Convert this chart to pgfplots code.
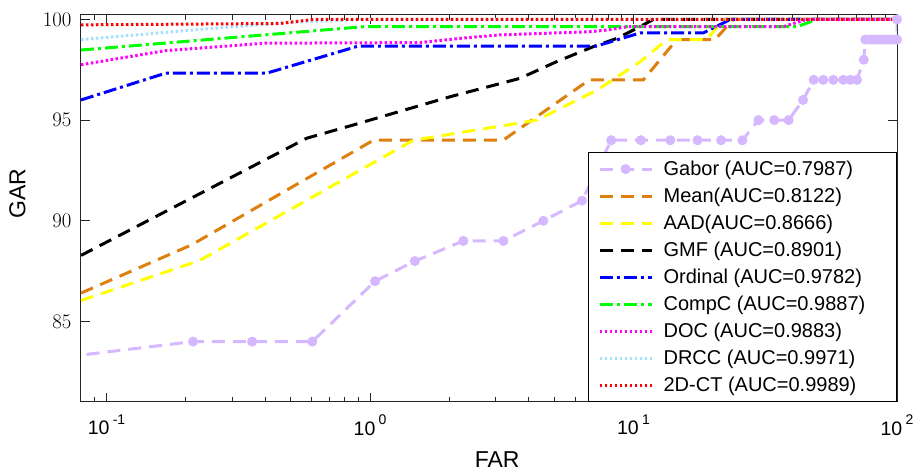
\documentclass[border=0pt]{standalone}
\usepackage{fontspec}
\setmainfont{Liberation Sans}
\usepackage{pgfplots}
\pgfplotsset{compat=1.18}
\usetikzlibrary{calc}
\definecolor{cgabor}{RGB}{213,184,255}
\definecolor{cmean}{RGB}{222,128,16}
\definecolor{caad}{RGB}{255,255,0}
\definecolor{cord}{RGB}{0,0,255}
\definecolor{ccomp}{RGB}{0,255,0}
\definecolor{cdoc}{RGB}{255,0,255}
\definecolor{cdrcc}{RGB}{165,225,255}
\definecolor{cct}{RGB}{255,0,0}
\newcommand{\tp}[1]{10\,\raisebox{0.55em}{\fontsize{14}{14}\selectfont #1}}
\newcommand{\legtxt}[1]{\makebox[233pt][l]{#1}}
\begin{document}
\begin{tikzpicture}
\begin{axis}[
 scale only axis, width=816pt, height=387pt,
 xmode=log, xmin=0.08, xmax=100, ymin=81, ymax=100.22,
 xtick={0.1,1,10,100}, xticklabels={\tp{-1},\tp{0},\tp{1},\tp{2}},
 minor xtick={0.09,0.2,0.3,0.4,0.5,0.6,0.7,0.8,0.9,2,3,4,5,6,7,8,9,20,30,40,50,60,70,80,90},
 ytick={85,90,95,100}, minor ytick={},
 tick align=inside,
 major tick length=9pt, minor tick length=5pt,
 axis line style={black!85, line width=1pt},
 every tick/.style={black!85, line width=0.8pt},
 ticklabel style={font=\fontsize{19.5}{20}\selectfont},
 yticklabel style={xshift=-6pt},
 xticklabel style={yshift=-9pt},
 xlabel={FAR}, ylabel={GAR},
 label style={font=\fontsize{23}{24}\selectfont},
 xlabel style={at={(axis description cs:0.51,-0.169)}, anchor=base},
 ylabel style={at={(axis description cs:-0.078,0.539)}, anchor=center},
 legend cell align=left,
 legend style={at={(1,0)}, anchor=south east, draw=black, line width=0.8pt, fill=white,
   inner xsep=0pt, inner ysep=3pt, font=\fontsize{20}{22}\selectfont,
   row sep=0pt, column sep=0pt,
   nodes={inner sep=0pt, text height=20pt, text depth=7pt}},
 legend image code/.code={\path[draw=none,fill=none] (0pt,0pt) -- (75pt,0pt);
   \draw[mark repeat=2,mark phase=2,#1] plot coordinates {(11pt,0pt) (37pt,0pt) (63pt,0pt)};},
]
\addplot[cgabor, line width=3pt, dash pattern=on 13pt off 8pt, mark=*, mark size=4.5pt,
  mark options={solid, line width=1pt, fill=cgabor}] coordinates {
 (0.07,83.24) (0.213,84) (0.357,84) (0.604,84) (1.045,87) (1.48,88) (2.26,89) (3.21,89)
 (4.55,90) (6.38,91) (8.23,94) (10.67,94) (13.8,94) (17.5,94) (21.5,94) (25.9,94)
 (29.8,95) (34.2,95) (38.8,95) (44.0,96) (48.3,97) (52.5,97) (57.3,97) (62.5,97)
 (66.5,97) (70.5,97) (74.8,98) (75.8,99) (79,99) (82,99) (85,99) (88,99) (91,99)
 (94,99) (97,99) (100,99) (100,100)};
\addlegendentry{\legtxt{Gabor (AUC=0.7987)}}
\addplot[cmean, line width=3pt, dash pattern=on 13pt off 8pt] coordinates {
 (0.08,86.41) (0.21,88.8) (1.03,94) (3.2,94) (6.8,97) (10.9,97) (14.6,99) (20.4,99) (23.9,100) (100,100)};
\addlegendentry{\legtxt{Mean(AUC=0.8122)}}
\addplot[caad, line width=3pt, dash pattern=on 13pt off 8pt] coordinates {
 (0.08,86.04) (0.226,88.03) (1.46,94.0) (4.3,95.0) (7.3,96.5) (10.6,97.9) (13.4,99.0) (19.0,99.0) (21.9,100) (100,100)};
\addlegendentry{\legtxt{AAD(AUC=0.8666)}}
\addplot[black, line width=3pt, dash pattern=on 13pt off 8pt] coordinates {
 (0.08,88.28) (0.575,94.1) (0.86,94.75) (2.0,96.15) (3.7,97.07) (5.1,97.9) (7.05,98.65) (8.65,99.06) (10.3,99.56) (11.9,100) (100,100)};
\addlegendentry{\legtxt{GMF (AUC=0.8901)}}
\addplot[cord, line width=3pt, dash pattern=on 13pt off 4pt on 3pt off 4pt] coordinates {
 (0.08,96.0) (0.1675,97.33) (0.405,97.33) (0.9,98.67) (7.2,98.67) (10.6,99.33) (18.4,99.33) (23.3,100) (100,100)};
\addlegendentry{\legtxt{Ordinal (AUC=0.9782)}}
\addplot[ccomp, line width=3pt, dash pattern=on 13pt off 4pt on 3pt off 4pt] coordinates {
 (0.08,98.48) (0.95,99.64) (41.7,99.64) (49.7,100) (100,100)};
\addlegendentry{\legtxt{CompC (AUC=0.9887)}}
\addplot[cdoc, line width=3pt, dash pattern=on 2.5pt off 2.5pt] coordinates {
 (0.08,97.75) (0.1675,98.45) (0.4,98.82) (1.55,98.85) (2.2,99.06) (3.1,99.23) (6.85,99.39) (8,99.48) (9.5,99.64) (37,99.64) (45.5,100) (100,100)};
\addlegendentry{\legtxt{DOC (AUC=0.9883)}}
\addplot[cdrcc, line width=3pt, dash pattern=on 2.5pt off 2.5pt] coordinates {
 (0.08,99.0) (0.25,99.55) (0.5,99.85) (0.95,100) (100,100)};
\addlegendentry{\legtxt{DRCC (AUC=0.9971)}}
\addplot[cct, line width=3pt, dash pattern=on 2.5pt off 2.5pt] coordinates {
 (0.08,99.73) (0.455,99.8) (0.61,100) (100,100)};
\addlegendentry{\legtxt{2D-CT (AUC=0.9989)}}
\end{axis}
\pgfresetboundingbox
\path ($(current axis.south west)+(-81pt,-69pt)$) rectangle ($(current axis.north east)+(16pt,15pt)$);
\end{tikzpicture}
\end{document}
